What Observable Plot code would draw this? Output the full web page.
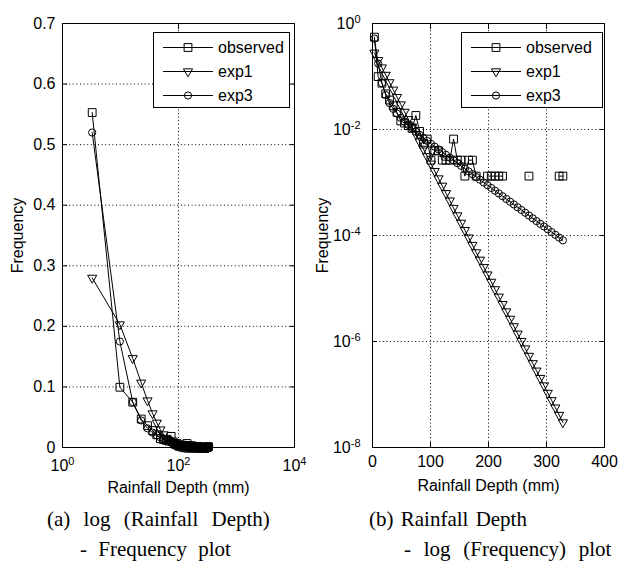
<!DOCTYPE html>
<html><head><meta charset="utf-8">
<script src="https://cdn.jsdelivr.net/npm/d3@7"></script>
<script src="https://cdn.jsdelivr.net/npm/@observablehq/plot@0.6"></script>
<style>
html,body{margin:0;padding:0;background:#fff;}
#page{position:relative;width:618px;height:567px;overflow:hidden;background:#fff;}
#pa,#pb{position:absolute;top:0;}
#pa{left:0;} #pb{left:309px;}
#cap{position:absolute;left:0;top:0;}
</style></head><body>
<div id="page"><div id="pa"></div><div id="pb"></div><svg id="cap" width="618" height="567"></svg></div>
<script>
// ---- data ----
const depth = [3.25, 9.75, 16.25, 22.75, 29.25, 35.75, 42.25, 48.75, 55.25, 61.75, 68.25, 74.75, 81.25, 87.75, 94.25, 100.75, 107.25, 113.75, 120.25, 126.75, 133.25, 139.75, 146.25, 152.75, 159.25, 165.75, 172.25, 178.75, 185.25, 191.75, 198.25, 204.75, 211.25, 217.75, 224.25, 230.75, 237.25, 243.75, 250.25, 256.75, 263.25, 269.75, 276.25, 282.75, 289.25, 295.75, 302.25, 308.75, 315.25, 321.75, 328.25];
const observed = [0.553, 0.0995, 0.0748, 0.047, 0.036, 0.028, 0.021, 0.0145, 0.0132, 0.0118, 0.0105, 0.0184, 0.0092, 0.0053, 0.0066, 0.00264, 0.00396, 0.00396, 0.00264, 0.00264, 0.00264, 0.0066, 0.00264, 0.00264, 0.00132, 0.00264, 0.00264, 0.00132, 0, 0, 0.00132, 0.00132, 0.00132, 0.00132, 0.00132, 0, 0, 0, 0, 0, 0, 0.00132, 0, 0, 0, 0, 0, 0, 0, 0.00132, 0.00132];
const exp1 = [0.28, 0.2031, 0.1473, 0.1069, 0.0775, 0.0562, 0.0408, 0.0296, 0.0215, 0.0156, 0.0113, 0.00818, 0.00593, 0.0043, 0.00312, 0.00226, 0.00164, 0.00119, 0.000865, 0.000627, 0.000455, 0.00033, 0.000239, 0.000173, 0.000126, 9.12e-5, 6.61e-5, 4.8e-5, 3.48e-5, 2.52e-5, 1.83e-5, 1.33e-5, 9.64e-6, 6.99e-6, 5.07e-6, 3.68e-6, 2.67e-6, 1.93e-6, 1.4e-6, 1.02e-6, 7.37e-7, 5.34e-7, 3.88e-7, 2.81e-7, 2.04e-7, 1.48e-7, 1.07e-7, 7.78e-8, 5.65e-8, 4.1e-8, 2.97e-8];
const exp3 = [0.52, 0.175, 0.075, 0.0447, 0.0316, 0.0245, 0.02, 0.0166, 0.0141, 0.0122, 0.0105, 0.00912, 0.00794, 0.00695, 0.0061, 0.00537, 0.00475, 0.00422, 0.00374, 0.00332, 0.00294, 0.00261, 0.00232, 0.00206, 0.00182, 0.00162, 0.00144, 0.00127, 0.00113, 0.001, 0.000889, 0.000789, 0.0007, 0.000621, 0.000551, 0.000489, 0.000434, 0.000385, 0.000341, 0.000303, 0.000269, 0.000238, 0.000211, 0.000187, 0.000166, 0.000148, 0.000131, 0.000116, 0.000103, 9.14e-5, 8.11e-5];
const seriesNames = ["observed", "exp1", "exp3"];
const xTicksA = [1, 100, 10000];
const yTicksA = [0, 0.1, 0.2, 0.3, 0.4, 0.5, 0.6, 0.7];
const xTicksB = [0, 100, 200, 300, 400];
const yTicksB = [1, 1e-2, 1e-4, 1e-6, 1e-8];
const xLabel = "Rainfall Depth (mm)";
const yLabel = "Frequency";
const captionA = ["(a) log (Rainfall Depth)", "- Frequency plot"];
const captionB = ["(b) Rainfall Depth", "- log (Frequency) plot"];

// ---- build ----
const seriesValues = {observed, exp1, exp3};
const symbolStyle = {
  observed: {symbol: "square", r: 4.4, rotate: 0, d3sym: d3.symbolSquare},
  exp1: {symbol: "triangle", r: 3.4, rotate: 180, d3sym: d3.symbolTriangle},
  exp3: {symbol: "circle", r: 3.6, rotate: 0, d3sym: d3.symbolCircle}
};
const rows = seriesNames.flatMap(s => depth.map((d, i) => ({series: s, depth: d, freq: seriesValues[s][i]})));
const logRows = rows.map(r => ({...r, freq: r.freq > 0 ? r.freq : NaN}));

const fontStyle = {background: "white", color: "black", fontFamily: "'Liberation Sans', Arial, sans-serif", fontSize: "16px", overflow: "visible"};
const grid = {stroke: "black", strokeOpacity: 1, strokeWidth: 1, strokeDasharray: "1,2.6"};
const expFmt = d => "10^" + Math.round(Math.log10(d));

function seriesMarks(data) {
  return seriesNames.flatMap(s => {
    const st = symbolStyle[s];
    const sub = data.filter(r => r.series === s);
    return [
      Plot.line(sub, {x: "depth", y: "freq", stroke: "black", strokeWidth: 1}),
      Plot.dot(sub.filter(r => Number.isFinite(r.freq)), {x: "depth", y: "freq", symbol: st.symbol, r: st.r, rotate: st.rotate, stroke: "black", strokeWidth: 1, fill: "none"})
    ];
  });
}

function innerTicks(xt, yt) {
  return [
    Plot.axisX({anchor: "bottom", ticks: xt, tickSize: -5, tickFormat: () => "", label: null}),
    Plot.axisX({anchor: "top", ticks: xt, tickSize: -5, tickFormat: () => "", label: null}),
    Plot.axisY({anchor: "left", ticks: yt, tickSize: -5, tickFormat: () => "", label: null}),
    Plot.axisY({anchor: "right", ticks: yt, tickSize: -5, tickFormat: () => "", label: null})
  ];
}

const plotA = Plot.plot({
  width: 309, height: 500,
  marginLeft: 62, marginRight: 15, marginTop: 23, marginBottom: 53,
  style: fontStyle,
  x: {type: "log", domain: [1, 10000]},
  y: {type: "linear", domain: [0, 0.7]},
  marks: [
    Plot.gridY({ticks: yTicksA.slice(1, -1), ...grid}),
    Plot.gridX({ticks: xTicksA.slice(1, -1), ...grid}),
    ...seriesMarks(rows),
    Plot.frame({stroke: "black", strokeWidth: 1}),
    ...innerTicks(xTicksA, yTicksA),
    Plot.axisX({anchor: "bottom", ticks: xTicksA, tickSize: 0, tickPadding: 12, tickFormat: expFmt, label: xLabel, labelAnchor: "center", labelArrow: "none", labelOffset: 45}),
    Plot.axisY({anchor: "left", ticks: yTicksA, tickSize: 0, tickPadding: 7, tickFormat: d => String(d), label: yLabel, labelAnchor: "center", labelArrow: "none", labelOffset: 51})
  ]
});

const plotB = Plot.plot({
  width: 309, height: 500,
  marginLeft: 63, marginRight: 14, marginTop: 23, marginBottom: 53,
  style: fontStyle,
  x: {type: "linear", domain: [0, 400]},
  y: {type: "log", domain: [1e-8, 1]},
  marks: [
    Plot.gridY({ticks: yTicksB.slice(1, -1), ...grid}),
    Plot.gridX({ticks: xTicksB.slice(1, -1), ...grid}),
    ...seriesMarks(logRows),
    Plot.frame({stroke: "black", strokeWidth: 1}),
    ...innerTicks(xTicksB, yTicksB),
    Plot.axisX({anchor: "bottom", ticks: xTicksB, tickSize: 0, tickPadding: 8, tickFormat: d => String(d), label: xLabel, labelAnchor: "center", labelArrow: "none", labelOffset: 43}),
    Plot.axisY({anchor: "left", ticks: yTicksB, tickSize: 0, tickPadding: 12, tickFormat: expFmt, label: yLabel, labelAnchor: "center", labelArrow: "none", labelOffset: 56})
  ]
});

function supify(svg) {
  d3.select(svg).selectAll("text").each(function () {
    const m = /^10\^(-?\d+)$/.exec(this.textContent);
    if (!m) return;
    const t = d3.select(this);
    t.text(null);
    t.append("tspan").text("10");
    t.append("tspan").attr("dy", "-0.55em").attr("font-size", "11px").text(m[1]);
  });
}

function addLegend(svg, box) {
  const g = d3.select(svg).append("g").attr("aria-label", "legend").attr("text-anchor", "start");
  g.append("rect").attr("x", box.x + 0.5).attr("y", box.y + 0.5).attr("width", box.w).attr("height", box.h)
    .attr("fill", "white").attr("stroke", "black");
  seriesNames.forEach((name, i) => {
    const y = box.y + 15 + i * 24;
    const st = symbolStyle[name];
    g.append("line").attr("x1", box.x + 10).attr("x2", box.x + 60).attr("y1", y + 0.5).attr("y2", y + 0.5).attr("stroke", "black");
    g.append("path").attr("d", d3.symbol(st.d3sym, Math.PI * st.r * st.r)())
      .attr("transform", `translate(${box.x + 35},${y + 0.5}) rotate(${st.rotate})`)
      .attr("fill", "none").attr("stroke", "black");
    g.append("text").attr("x", box.x + 65).attr("y", y).attr("dy", "0.35em").attr("font-size", "16px").text(name);
  });
}

supify(plotA); supify(plotB);
addLegend(plotA, {x: 153, y: 32, w: 136, h: 75});
addLegend(plotB, {x: 152, y: 32, w: 141, h: 75});
document.getElementById("pa").appendChild(plotA);
document.getElementById("pb").appendChild(plotB);

// captions
const cap = d3.select("#cap").attr("font-family", "'Liberation Serif', 'Times New Roman', serif").attr("font-size", 21);
const capLines = [
  {text: captionA[0], x: 47, y: 526, ws: 8},
  {text: captionA[1], x: 80, y: 556, ws: 6},
  {text: captionB[0], x: 369, y: 526, ws: 2},
  {text: captionB[1], x: 404, y: 556, ws: 7.5}
];
capLines.forEach(l => cap.append("text").attr("x", l.x).attr("y", l.y).style("word-spacing", l.ws + "px").text(l.text));
</script>
</body></html>
